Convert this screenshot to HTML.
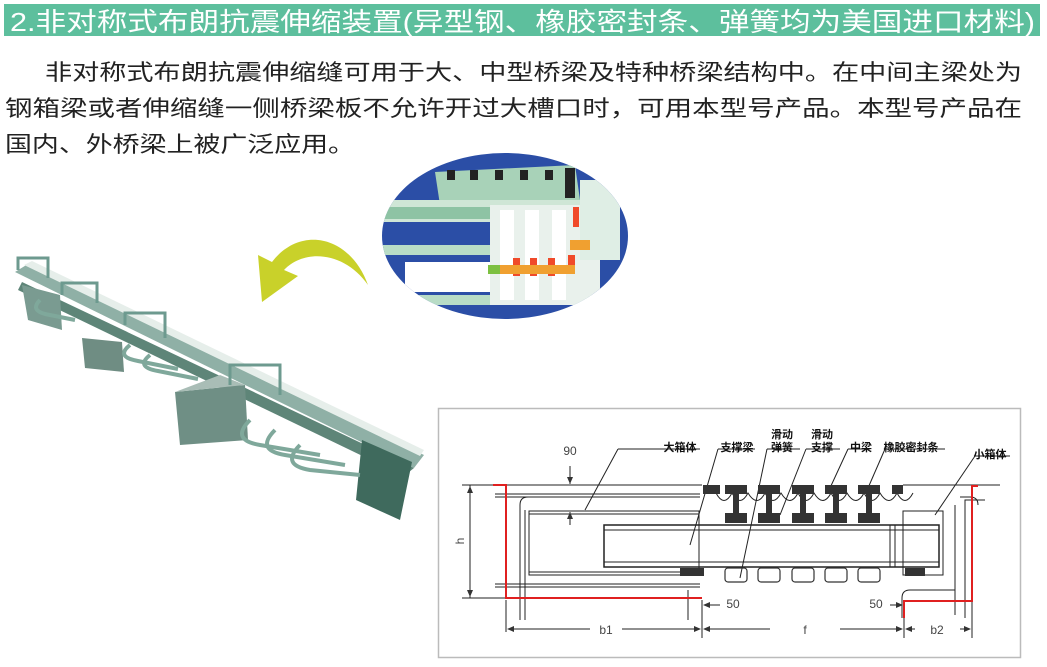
<!DOCTYPE html>
<html><head><meta charset="utf-8"><style>
html,body{margin:0;padding:0;background:#fff;width:1047px;height:667px;overflow:hidden}
svg{display:block}
.cj{font-family:"Liberation Sans","Noto Sans CJK SC",sans-serif}
</style></head><body>
<svg width="1047" height="667" viewBox="0 0 1047 667" xmlns="http://www.w3.org/2000/svg">
<!-- header -->
<rect x="4" y="4" width="1036" height="32" fill="#5dbf9d"/>
<text class="cj" x="10" y="31" font-size="26" fill="#fff" textLength="1025" lengthAdjust="spacingAndGlyphs">2.非对称式布朗抗震伸缩装置(异型钢、橡胶密封条、弹簧均为美国进口材料)</text>
<g class="cj" font-size="22" fill="#222">
<text x="45" y="80" textLength="977" lengthAdjust="spacingAndGlyphs">非对称式布朗抗震伸缩缝可用于大、中型桥梁及特种桥梁结构中。在中间主梁处为</text>
<text x="5" y="116" textLength="1017" lengthAdjust="spacingAndGlyphs">钢箱梁或者伸缩缝一侧桥梁板不允许开过大槽口时，可用本型号产品。本型号产品在</text>
<text x="5" y="152" textLength="350" lengthAdjust="spacingAndGlyphs">国内、外桥梁上被广泛应用。</text>
</g>

<!-- circle detail -->
<defs><clipPath id="cc"><ellipse cx="505" cy="236" rx="123" ry="83"/></clipPath></defs>
<ellipse cx="505" cy="236" rx="123" ry="83" fill="#2b4ea6"/>
<g clip-path="url(#cc)">
<polygon points="435,172 575,165 580,200 440,205" fill="#a8d2b8"/>
<rect x="380" y="200" width="200" height="22" fill="#cfe6d6"/>
<rect x="380" y="207" width="200" height="12" fill="#8ec3a4"/>
<rect x="380" y="245" width="130" height="10" fill="#b8dcc6"/>
<rect x="405" y="262" width="110" height="30" fill="#fff"/>
<rect x="400" y="295" width="200" height="10" fill="#b8dcc6"/>
<rect x="490" y="205" width="110" height="100" fill="#e9f1ec"/>
<rect x="500" y="210" width="14" height="90" fill="#fff"/>
<rect x="525" y="210" width="14" height="90" fill="#fff"/>
<rect x="552" y="210" width="14" height="90" fill="#fff"/>
<rect x="580" y="180" width="40" height="80" fill="#dfeee5"/>
<g fill="#222"><rect x="447" y="170" width="8" height="10"/><rect x="470" y="170" width="8" height="10"/><rect x="495" y="170" width="8" height="10"/><rect x="520" y="170" width="8" height="10"/><rect x="545" y="170" width="8" height="10"/><rect x="565" y="168" width="10" height="30"/></g>
<g fill="#f04a2a"><rect x="513" y="258" width="7" height="18"/><rect x="530" y="258" width="7" height="18"/><rect x="548" y="258" width="7" height="18"/><rect x="568" y="255" width="7" height="18"/><rect x="573" y="207" width="6" height="20"/></g>
<g fill="#f0a030"><rect x="500" y="265" width="75" height="9"/><rect x="570" y="240" width="20" height="10"/></g>
<rect x="488" y="265" width="12" height="9" fill="#7cc040"/>
</g>

<!-- yellow arrow -->
<path d="M368,285 C350,235 300,225 272,262 L258,255 L262,302 L298,276 L284,270 C305,248 345,252 368,285 Z" fill="#c9d12a"/>

<!-- product -->
<g>
<polygon points="15,272 28,264 424,455 414,468" fill="#8fb0a6"/>
<polygon points="24,265 32,261 424,450 420,456" fill="#e6eeea"/>
<polygon points="22,282 414,468 404,476 18,290" fill="#5e8578"/>
<polygon points="362,440 412,462 400,520 356,500" fill="#3f6a5d"/>
<polygon points="22,285 60,295 62,330 28,320" fill="#7a9b91"/>
<polygon points="82,338 122,342 124,372 85,368" fill="#6f8d83"/>
<polygon points="175,392 245,385 248,440 180,445" fill="#6f8f85"/>
<polygon points="175,392 220,375 245,385" fill="#a9bdb6"/>
<g fill="none" stroke="#7fa89b" stroke-width="4">
<path d="M250,420 q-20,20 10,25 l60,10"/><path d="M275,430 q-20,20 10,25 l60,10"/><path d="M300,445 q-20,20 10,25 l50,5"/>
<path d="M130,345 q-15,12 8,16 l40,8"/><path d="M150,355 q-15,12 8,16 l40,8"/>
<path d="M40,300 q-10,10 5,14 l30,6"/>
</g>
<g fill="none" stroke="#6d9a8f" stroke-width="3">
<path d="M18,270 v-12 h30 v20"/><path d="M62,295 v-12 h35 v20"/><path d="M125,325 v-12 h40 v25"/><path d="M230,385 v-20 h50 v30"/>
</g>
</g>

<!-- technical drawing -->
<rect x="438.5" y="408.5" width="582" height="249" fill="#fff" stroke="#bbb" stroke-width="1.5"/>
<g stroke="#222" fill="none" stroke-width="1">
<line x1="462" y1="485" x2="702" y2="485"/>
<line x1="903" y1="485" x2="1000" y2="485"/>
<line x1="462" y1="598" x2="520" y2="598"/>
<line x1="470" y1="485" x2="470" y2="598"/>
<line x1="495" y1="494" x2="700" y2="494"/><line x1="495" y1="497" x2="700" y2="497"/>
<line x1="495" y1="584" x2="700" y2="584"/><line x1="495" y1="587" x2="700" y2="587"/>
<path d="M520,620 v-115 q0,-8 8,-8"/>
<path d="M525,620 v-110"/>
<path d="M688,620 v-30"/>
<!-- big box -->
<rect x="529" y="511" width="170" height="64"/>
<line x1="529" y1="514" x2="699" y2="514"/><line x1="529" y1="572" x2="699" y2="572"/>
<!-- beam -->
<rect x="604" y="525" width="335" height="42" stroke-width="1.5"/>
<line x1="604" y1="530" x2="939" y2="530"/><line x1="604" y1="562" x2="939" y2="562"/>
<line x1="890" y1="525" x2="890" y2="567"/><line x1="895" y1="525" x2="895" y2="567"/>
<!-- seal wave -->
<path d="M716,493 q8,15 16,0 q8,15 16,0 q9,15 17,0 q8,15 16,0 q9,15 17,0 q8,15 16,0 q9,15 17,0 q8,15 16,0 q9,15 17,0 q8,15 16,0 q9,15 17,0 q8,15 16,0"/>
<!-- small box right -->
<rect x="903" y="511" width="40" height="64"/>
<path d="M985,500 h-20 v118"/><path d="M978,505 q0,-8 -8,-8 h-10"/>
<path d="M955,505 v110"/>
<path d="M955,590 h-45 q-8,0 -8,8 v20"/>
<!-- leaders -->
<line x1="618" y1="449" x2="700" y2="449"/><line x1="618" y1="449" x2="585" y2="510"/>
<line x1="718" y1="449" x2="755" y2="449"/><line x1="718" y1="449" x2="690" y2="545"/>
<line x1="767" y1="449" x2="800" y2="449"/><line x1="767" y1="449" x2="740" y2="578"/>
<line x1="806" y1="449" x2="840" y2="449"/><line x1="806" y1="449" x2="780" y2="515"/>
<line x1="848" y1="449" x2="870" y2="449"/><line x1="848" y1="449" x2="830" y2="488"/>
<line x1="885" y1="449" x2="945" y2="449"/><line x1="885" y1="449" x2="868" y2="488"/>
<line x1="975" y1="456" x2="1010" y2="456"/><line x1="975" y1="456" x2="935" y2="515"/>
<!-- dims -->
<line x1="570" y1="466" x2="570" y2="484"/><line x1="570" y1="512" x2="570" y2="525"/>
<line x1="506" y1="600" x2="506" y2="632"/><line x1="702" y1="600" x2="702" y2="638"/>
<line x1="904" y1="600" x2="904" y2="638"/><line x1="972" y1="600" x2="972" y2="638"/>
<line x1="508" y1="629" x2="590" y2="629"/><line x1="622" y1="629" x2="700" y2="629"/>
<line x1="704" y1="629" x2="770" y2="629"/><line x1="840" y1="629" x2="902" y2="629"/>
<line x1="906" y1="629" x2="915" y2="629"/><line x1="960" y1="629" x2="970" y2="629"/>
<line x1="706" y1="605" x2="720" y2="605"/><line x1="890" y1="605" x2="902" y2="605"/>
</g>
<g fill="#333">
<polygon points="570,484 567,477 573,477"/><polygon points="570,512 567,519 573,519"/>
<polygon points="470,486 467,493 473,493"/><polygon points="470,597 467,590 473,590"/>
<polygon points="703,605 710,602 710,608"/><polygon points="903,605 896,602 896,608"/>
<polygon points="507,629 514,626 514,632"/><polygon points="701,629 694,626 694,632"/><polygon points="703,629 710,626 710,632"/><polygon points="903,629 896,626 896,632"/><polygon points="905,629 912,626 912,632"/><polygon points="971,629 964,626 964,632"/>
</g>
<!-- hatched blocks -->
<g fill="#333">
<rect x="703" y="485" width="17" height="9"/><rect x="725" y="485" width="22" height="9"/><rect x="758" y="485" width="22" height="9"/><rect x="792" y="485" width="22" height="9"/><rect x="825" y="485" width="22" height="9"/><rect x="858" y="485" width="22" height="9"/><rect x="892" y="485" width="11" height="9"/>
<rect x="725" y="513" width="22" height="10"/><rect x="758" y="513" width="22" height="10"/><rect x="792" y="513" width="22" height="10"/><rect x="825" y="513" width="22" height="10"/><rect x="858" y="513" width="22" height="10"/>
<rect x="733" y="494" width="6" height="19"/><rect x="766" y="494" width="6" height="19"/><rect x="800" y="494" width="6" height="19"/><rect x="833" y="494" width="6" height="19"/><rect x="866" y="494" width="6" height="19"/>
<rect x="680" y="568" width="24" height="8"/><rect x="905" y="568" width="20" height="8"/>
</g>
<g fill="none" stroke="#333" stroke-width="1.2">
<rect x="725" y="568" width="22" height="14" rx="3"/><rect x="758" y="568" width="22" height="14" rx="3"/><rect x="792" y="568" width="22" height="14" rx="3"/><rect x="825" y="568" width="22" height="14" rx="3"/><rect x="858" y="568" width="22" height="14" rx="3"/>
</g>
<!-- red lines -->
<g stroke="#e02020" stroke-width="2" fill="none">
<polyline points="493,485 506,485 506,598 702,598"/>
<polyline points="978,486 972,486 972,601 904,601 904,618"/>
</g>
<!-- labels -->
<g class="cj" font-size="11" fill="#111" font-weight="bold" text-anchor="middle">
<text x="680" y="451">大箱体</text>
<text x="737" y="451">支撑梁</text>
<text x="782" y="438">滑动</text><text x="782" y="451">弹簧</text>
<text x="822" y="438">滑动</text><text x="822" y="451">支撑</text>
<text x="861" y="451">中梁</text>
<text x="911" y="451">橡胶密封条</text>
<text x="990" y="458">小箱体</text>
</g>
<g font-family="Liberation Sans,sans-serif" font-size="12" fill="#444" text-anchor="middle">
<text x="570" y="455">90</text>
<text x="606" y="634">b1</text>
<text x="805" y="634">f</text>
<text x="937" y="634">b2</text>
<text x="733" y="608">50</text>
<text x="876" y="608">50</text>
<text x="464" y="541" transform="rotate(-90 464 541)">h</text>
</g>
</svg>
</body></html>
